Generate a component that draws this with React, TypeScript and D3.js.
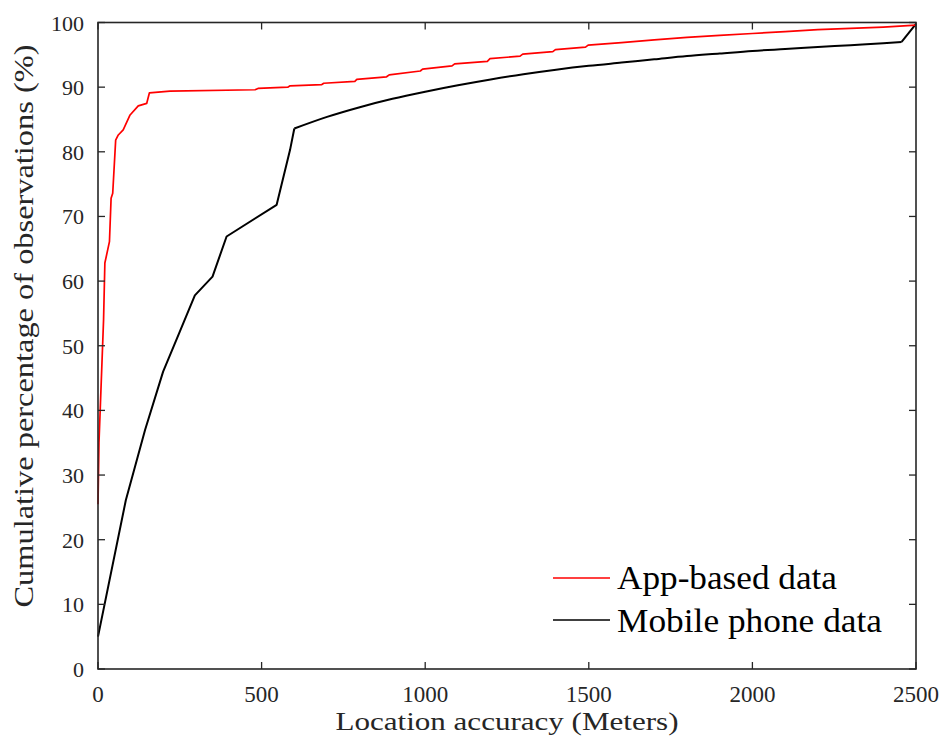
import React from "react";
import * as d3 from "d3";

const appX = [0, 3, 17, 21, 35, 40, 45, 54, 62, 77, 98, 123, 149, 157, 220, 480, 489, 580, 587, 684, 690, 785, 791, 882, 890, 985, 992, 1082, 1090, 1190, 1198, 1290, 1298, 1390, 1398, 1490, 1498, 1600, 1700, 1800, 1900, 2000, 2100, 2200, 2300, 2400, 2500];
const appY = [25.5, 35.0, 54.0, 62.8, 66.1, 72.8, 73.6, 81.8, 82.6, 83.4, 85.7, 87.1, 87.5, 89.1, 89.4, 89.6, 89.8, 90.0, 90.2, 90.4, 90.6, 90.9, 91.2, 91.6, 91.9, 92.5, 92.8, 93.3, 93.6, 94.0, 94.4, 94.8, 95.1, 95.5, 95.8, 96.2, 96.5, 96.9, 97.3, 97.7, 98.0, 98.3, 98.6, 98.9, 99.1, 99.3, 99.6];

// Mobile phone data: piecewise part (0–600 m) and smooth tail (600–2456 m), final jump at 2500
const mobHeadX = [0, 85, 144, 199, 250, 296, 350, 393, 546, 587, 600];
const mobHeadY = [5.0, 26.1, 37.0, 46.0, 52.2, 57.8, 60.7, 66.9, 71.8, 80.3, 83.6];
const mobTailX = [600, 700, 800, 900, 1000, 1100, 1200, 1300, 1400, 1500, 1600, 1700, 1800, 1900, 2000, 2100, 2200, 2300, 2400, 2456];
const mobTailY = [83.6, 85.4, 86.9, 88.2, 89.3, 90.3, 91.2, 92.0, 92.7, 93.3, 93.8, 94.3, 94.8, 95.2, 95.6, 95.9, 96.2, 96.5, 96.8, 97.0];
const mobEndX = [2456, 2500];
const mobEndY = [97.0, 99.8];

const xTicks = [0, 500, 1000, 1500, 2000, 2500];
const yTicks = [0, 10, 20, 30, 40, 50, 60, 70, 80, 90, 100];

const seriesNames = ["App-based data", "Mobile phone data"];
const seriesColors = ["#ff0000", "#000000"];

const FONT = "Liberation Serif";

export default function App() {
  const W = 945, H = 743;
  const x = d3.scaleLinear().domain([0, 2500]).range([98, 916]);
  const y = d3.scaleLinear().domain([0, 100]).range([669, 22.5]);
  const axisColor = "#262626";
  const line = d3.line<[number, number]>().x((d) => x(d[0])).y((d) => y(d[1]));
  const smooth = d3.line<[number, number]>().x((d) => x(d[0])).y((d) => y(d[1])).curve(d3.curveMonotoneX);
  const zip = (a: number[], b: number[]) => a.map((v, i) => [v, b[i]] as [number, number]);
  const appPts = zip(appX, appY);
  const [x0, x1] = x.range();
  const [y0, y1] = y.range();
  const tl = 7;

  return (
    <svg width={W} height={H} style={{ position: "absolute", left: 0, top: 0, background: "#fff" }}>
      <rect x={0} y={0} width={W} height={H} fill="#fff" />
      <g fill="none" stroke={seriesColors[1]} strokeWidth={2} strokeLinejoin="round">
        <path d={line(zip(mobHeadX, mobHeadY)) || ""} />
        <path d={smooth(zip(mobTailX, mobTailY)) || ""} />
        <path d={line(zip(mobEndX, mobEndY)) || ""} />
      </g>
      <path d={line(appPts) || ""} fill="none" stroke={seriesColors[0]} strokeWidth={1.7} strokeLinejoin="round" />
      <rect x={x0} y={y1} width={x1 - x0} height={y0 - y1} fill="none" stroke={axisColor} strokeWidth={1.6} />
      {xTicks.map((t) => (
        <g key={"xt" + t}>
          <line x1={x(t)} x2={x(t)} y1={y0} y2={y0 - tl} stroke={axisColor} strokeWidth={1.3} />
          <line x1={x(t)} x2={x(t)} y1={y1} y2={y1 + tl} stroke={axisColor} strokeWidth={1.3} />
          <text x={x(t)} y={702} textAnchor="middle" fontSize={23} fontFamily={FONT} fill={axisColor}>{t}</text>
        </g>
      ))}
      {yTicks.map((t) => (
        <g key={"yt" + t}>
          <line x1={x0} x2={x0 + tl} y1={y(t)} y2={y(t)} stroke={axisColor} strokeWidth={1.3} />
          <line x1={x1} x2={x1 - tl} y1={y(t)} y2={y(t)} stroke={axisColor} strokeWidth={1.3} />
          <text x={84} y={y(t) + 8} textAnchor="end" fontSize={22} fontFamily={FONT} fill={axisColor}>{t}</text>
        </g>
      ))}
      <text x={507} y={730} textAnchor="middle" fontSize={26} fontFamily={FONT} fill={axisColor} textLength={343} lengthAdjust="spacingAndGlyphs">Location accuracy (Meters)</text>
      <text transform="translate(33,326) rotate(-90)" x={0} y={0} textAnchor="middle" fontSize={27} fontFamily={FONT} fill={axisColor} textLength={563} lengthAdjust="spacingAndGlyphs">Cumulative percentage of observations (%)</text>
      {seriesNames.map((name, i) => (
        <g key={name}>
          <line x1={553} x2={610} y1={578 + i * 42} y2={578 + i * 42} stroke={seriesColors[i]} strokeWidth={1.6} />
          <text x={617} y={589 + i * 43} fontSize={34} fontFamily={FONT} fill="#000" textLength={i === 0 ? 220 : 265} lengthAdjust="spacingAndGlyphs">{name}</text>
        </g>
      ))}
    </svg>
  );
}
